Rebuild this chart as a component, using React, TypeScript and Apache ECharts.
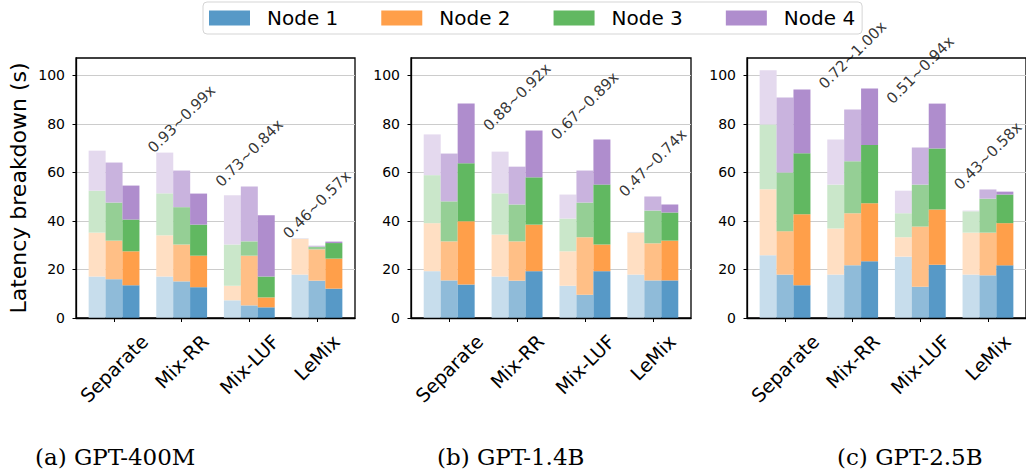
import React, { useEffect, useRef } from 'react';
import * as echarts from 'echarts';

const categories = ['Separate', 'Mix-RR', 'Mix-LUF', 'LeMix'];
const nodeNames = ['Node 1', 'Node 2', 'Node 3', 'Node 4'];
const captions = ['(a) GPT-400M', '(b) GPT-1.4B', '(c) GPT-2.5B'];
const yTicks = [0, 20, 40, 60, 80, 100];

// Latency segments (s). Rows: Node 1..4; columns follow `categories`.
// Three bars per scheme, drawn light -> full shade.
const gpt400mLight = [
  [17.1, 17.1, 7.3, 17.9],
  [18.1, 17.0, 6.0, 14.7],
  [17.3, 17.3, 17.0, 0.1],
  [16.5, 16.8, 20.3, 0.2],
];
const gpt400mMid = [
  [16.0, 15.1, 5.2, 15.4],
  [15.9, 15.2, 20.5, 12.9],
  [15.7, 15.4, 5.9, 1.1],
  [16.5, 15.1, 22.6, 0.4],
];
const gpt400mFull = [
  [13.5, 12.7, 4.4, 12.1],
  [14.0, 13.0, 4.1, 12.4],
  [13.1, 12.8, 8.6, 6.4],
  [14.0, 12.8, 25.3, 0.6],
];

const gpt14bLight = [
  [19.3, 17.1, 13.3, 17.9],
  [19.8, 17.3, 14.2, 17.3],
  [19.8, 17.0, 13.5, 0.1],
  [16.8, 17.2, 9.9, 0.2],
];
const gpt14bMid = [
  [15.5, 15.4, 9.6, 15.5],
  [16.1, 16.2, 23.7, 15.3],
  [16.5, 15.2, 14.3, 13.5],
  [19.7, 15.6, 13.2, 5.8],
];
const gpt14bFull = [
  [13.8, 19.3, 19.3, 15.5],
  [26.1, 19.2, 11.0, 16.4],
  [23.9, 19.5, 24.7, 11.6],
  [24.6, 19.3, 18.6, 3.3],
];

const gpt25bLight = [
  [25.9, 17.9, 25.3, 17.9],
  [27.2, 19.0, 8.0, 17.3],
  [26.7, 18.1, 9.9, 8.8],
  [22.3, 18.6, 9.3, 0.3],
];
const gpt25bMid = [
  [17.9, 21.7, 12.9, 17.6],
  [17.9, 21.5, 24.8, 17.6],
  [24.2, 21.4, 17.3, 14.0],
  [30.9, 21.4, 15.3, 3.8],
];
const gpt25bFull = [
  [13.5, 23.4, 22.0, 21.7],
  [29.3, 23.9, 22.7, 17.4],
  [25.1, 24.0, 25.2, 11.8],
  [26.3, 23.3, 18.5, 1.2],
];

// Speed-up ranges written above Mix-RR, Mix-LUF and LeMix.
const gpt400mRatios = ['0.93~0.99x', '0.73~0.84x', '0.46~0.57x'];
const gpt14bRatios = ['0.88~0.92x', '0.67~0.89x', '0.47~0.74x'];
const gpt25bRatios = ['0.72~1.00x', '0.51~0.94x', '0.43~0.58x'];

const panels = [
  { shades: [gpt400mLight, gpt400mMid, gpt400mFull], ratios: gpt400mRatios },
  { shades: [gpt14bLight, gpt14bMid, gpt14bFull], ratios: gpt14bRatios },
  { shades: [gpt25bLight, gpt25bMid, gpt25bFull], ratios: gpt25bRatios },
];

// tab10 colours blended on white at 25 %, 50 % and 75 %.
const nodeColors = [
  ['#c7ddec', '#8fbbd9', '#5799c7'],
  ['#ffdfc3', '#ffbf86', '#ff9f4a'],
  ['#cae7ca', '#95cf95', '#61b861'],
  ['#e4d9ee', '#c9b3de', '#af8dcd'],
];

const FONT = 'DejaVu Sans';
// x range -0.5625..3.5625 split into 33 slots of 0.125; group c, shade s sits in slot 8c + 2s + 2.
const X_MIN = -0.5625;
const X_MAX = 3.5625;
const SLOT = 0.125;
const SLOT_COUNT = Math.round((X_MAX - X_MIN) / SLOT);
const slotOf = (c: number, s: number) => 8 * c + 2 * s + 2;

const gridLefts = [76, 411, 747];
const gridWidths = [279, 280, 279];
const captionX = [35, 437, 837];

function measure(text: string, size: number): number {
  const ctx = document.createElement('canvas').getContext('2d');
  if (!ctx) return text.length * size * 0.6;
  ctx.font = `${size}px "${FONT}"`;
  return ctx.measureText(text).width;
}

function buildOption() {
  const xRich: Record<string, any> = {};
  categories.forEach((c, i) => {
    const w = measure(c, 19);
    // Push each rotated label down so all label boxes share the same top edge.
    xRich['c' + i] = {
      fontSize: 19,
      fontFamily: FONT,
      color: '#000',
      padding: [w / 2, w / 2, 0, 0],
    };
  });

  const slotNames = Array.from({ length: SLOT_COUNT }, (_, k) => String(k));

  const grids: any[] = [];
  const xAxes: any[] = [];
  const yAxes: any[] = [];
  const series: any[] = [];

  panels.forEach((panel, p) => {
    grids.push({
      left: gridLefts[p],
      top: 58,
      width: gridWidths[p],
      height: 260,
      show: true,
      borderColor: '#000',
      borderWidth: 1.3,
      backgroundColor: 'transparent',
    });
    // Visible axis: category ticks and rotated names.
    xAxes.push({
      type: 'value',
      gridIndex: p,
      min: X_MIN,
      max: X_MAX,
      z: 5,
      splitLine: { show: false },
      axisLine: { show: true, onZero: false, lineStyle: { color: '#000', width: 1.3 } },
      axisTick: {
        show: true,
        customValues: [0, 1, 2, 3],
        length: 4,
        lineStyle: { color: '#000', width: 1 },
      },
      axisLabel: {
        customValues: [0, 1, 2, 3],
        rotate: 45,
        align: 'center',
        verticalAlign: 'middle',
        margin: 20,
        formatter: (v: number) => {
          const i = Math.round(v);
          return `{c${i}|${categories[i]}}`;
        },
        rich: xRich,
      },
    });
    // Slot axis that carries the stacked bars.
    xAxes.push({
      type: 'category',
      gridIndex: p,
      data: slotNames,
      boundaryGap: true,
      show: false,
    });
    yAxes.push({
      type: 'value',
      gridIndex: p,
      min: 0,
      max: 107.2,
      interval: 20,
      name: p === 0 ? 'Latency breakdown (s)' : '',
      nameLocation: 'middle',
      nameGap: 47,
      nameTextStyle: { fontSize: 22, fontFamily: FONT, color: '#000' },
      axisLine: { show: true, onZero: false, lineStyle: { color: '#000', width: 1.3 } },
      axisTick: {
        show: true,
        customValues: yTicks,
        length: 3.5,
        lineStyle: { color: '#000', width: 1 },
      },
      axisLabel: {
        customValues: yTicks,
        fontSize: 14,
        fontFamily: FONT,
        color: '#000',
        margin: 11,
      },
      splitLine: { show: true, lineStyle: { color: '#cccccc', width: 1.2 } },
    });

    panel.shades.forEach((shade, s) => {
      shade.forEach((vals, n) => {
        series.push({
          type: 'bar',
          name: nodeNames[n],
          xAxisIndex: 2 * p + 1,
          yAxisIndex: p,
          stack: `p${p}s${s}`,
          barWidth: 17,
          barGap: '-100%',
          itemStyle: { color: nodeColors[n][s] },
          data: vals.map((v, c) => [slotOf(c, s), v]),
        });
      });
    });

    const groupMax = (c: number) =>
      Math.max(
        ...panel.shades.map((shade) => shade.reduce((acc, row) => acc + row[c], 0))
      );
    // Ratio text sits just above the tallest bar of its group; the offset is
    // given in the label's rotated frame and lifts the text straight up.
    series.push({
      type: 'scatter',
      xAxisIndex: 2 * p,
      yAxisIndex: p,
      symbolSize: 0,
      silent: true,
      z: 10,
      data: panel.ratios.map((r, i) => [i + 1, groupMax(i + 1), r]),
      label: {
        show: true,
        position: 'inside',
        rotate: 45,
        align: 'center',
        verticalAlign: 'middle',
        offset: [23.7, -23.7],
        fontSize: 15,
        fontFamily: FONT,
        color: '#000',
        formatter: (prm: any) => prm.data[2],
      },
    });
  });

  return {
    animation: false,
    backgroundColor: '#fff',
    textStyle: { fontFamily: FONT },
    legend: {
      data: nodeNames.map((name, n) => ({ name, itemStyle: { color: nodeColors[n][2] } })),
      left: 203,
      top: 2,
      orient: 'horizontal',
      icon: 'rect',
      itemWidth: 41,
      itemHeight: 15,
      itemGap: 43,
      padding: [6, 7, 6, 6],
      borderColor: '#d5d5d5',
      borderWidth: 1,
      borderRadius: 4,
      selectedMode: false,
      textStyle: { fontSize: 20, fontFamily: FONT, color: '#000', padding: [0, 0, 0, 12] },
    },
    grid: grids,
    xAxis: xAxes,
    yAxis: yAxes,
    series,
    graphic: captions.map((t, i) => ({
      type: 'text',
      x: captionX[i],
      y: 457,
      style: {
        text: t,
        fontSize: 23,
        fontFamily: 'DejaVu Serif',
        fill: '#000',
        verticalAlign: 'middle',
      },
    })),
  };
}

export default function App() {
  const ref = useRef<HTMLDivElement>(null);
  useEffect(() => {
    if (!ref.current) return;
    const chart = echarts.init(ref.current, undefined, { renderer: 'svg' });
    chart.setOption(buildOption() as any);
    return () => chart.dispose();
  }, []);
  return (
    <div
      ref={ref}
      style={{ position: 'fixed', left: 0, top: 0, width: 1026, height: 476 }}
    />
  );
}
